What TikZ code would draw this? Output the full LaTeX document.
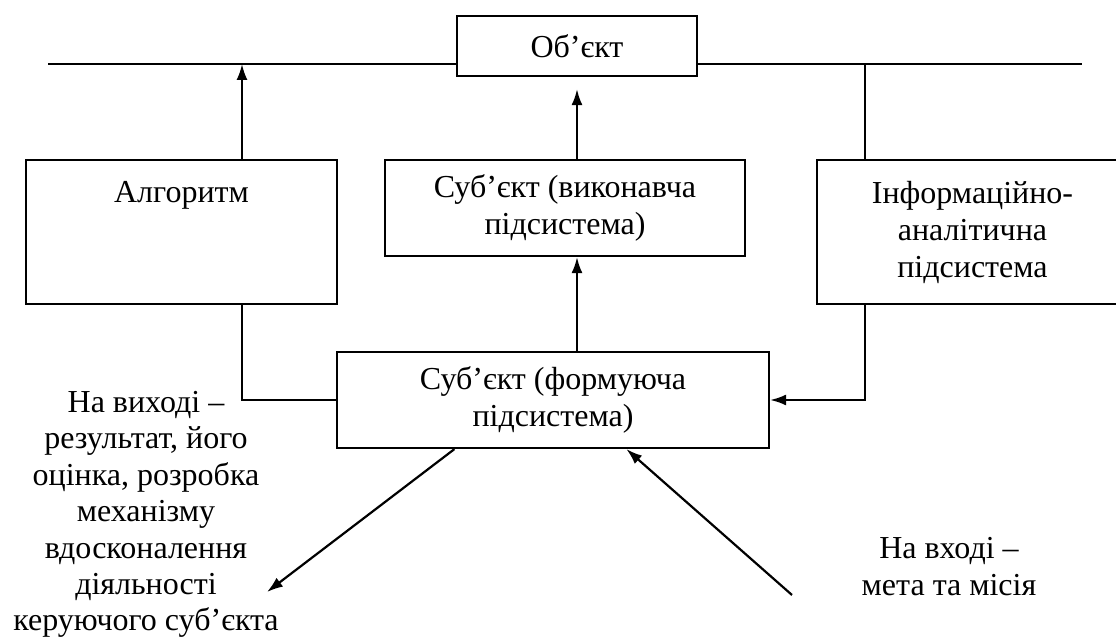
\documentclass[tikz,border=0pt]{standalone}
\usepackage{fontspec}
\setmainfont{Liberation Serif}
\usetikzlibrary{arrows.meta,positioning,calc}

\begin{document}
\begin{tikzpicture}[
  x=0.5pt, y=-0.5pt,
  font=\fontsize{16}{18.5}\selectfont,
  every node/.style={align=center},
  block/.style={draw=black, line width=1.1pt, inner sep=0pt, fill=white},
  link/.style={black, line width=1.1pt},
  arr/.style={-{Latex[length=8pt,width=5.5pt]}, black, line width=1.1pt},
]
\clip (0,0) rectangle (1116,640);

%% --- Boxes ---
\node[block, minimum width=120pt, minimum height=30pt] (obj) at (577,46) {Об’єкт};
\node[block, minimum width=155.5pt, minimum height=72pt] (alg) at (181.5,232) {};
\node[anchor=north, inner sep=0pt] (algtxt) at ($(alg.north)+(0,22)$) {Алгоритм};
\node[block, minimum width=180pt, minimum height=48pt] (exe) at (565,208) {Суб’єкт (виконавча\\підсистема)};
\node[block, minimum width=155.5pt, minimum height=72pt] (info) at (972.5,232) {Інформаційно-\\аналітична\\підсистема};
\node[block, minimum width=216pt, minimum height=48pt] (form) at (553,400) {Суб’єкт (формуюча\\підсистема)};

%% --- Free texts ---
\node[anchor=north, inner sep=0pt, font=\fontsize{16}{18.2}\selectfont] (outtxt) at (146,391) {На виході –\\результат, його\\оцінка, розробка\\механізму\\вдосконалення\\діяльності\\керуючого суб’єкта};
\node[anchor=north, inner sep=0pt] (intxt) at (949,537) {На вході –\\мета та місія};

%% --- Bus line ---
\coordinate (busL) at (48,64);
\coordinate (busR) at (1082,64);
\coordinate (tapA) at (242,64);
\coordinate (tapI) at (865,64);
\draw[link] (busL) -- (busL -| obj.west);
\draw[link] (busR -| obj.east) -- (busR);

%% --- Arrows ---
\draw[arr] (tapA |- alg.north) -- (tapA);
\draw[arr, shorten >=6pt] (obj.south |- exe.north) -- (obj.south);
\draw[link] (tapI) -- (tapI |- info.north);
\draw[arr] (obj.south |- form.north) -- (obj.south |- exe.south);
\draw[link] (tapA |- alg.south) -- (tapA |- form.west) -- (form.west);
\draw[arr] (tapI |- info.south) -- (tapI |- form.east) -- (form.east);

%% --- Output / input ---
\coordinate (outEnd) at (267,592);
\coordinate (inStart) at (792,595);
\draw[arr] ($(form.south west)!0.273!(form.south east)$) -- (outEnd);
\draw[arr] (inStart) -- ($(form.south west)!0.669!(form.south east)$);

\end{tikzpicture}
\end{document}
